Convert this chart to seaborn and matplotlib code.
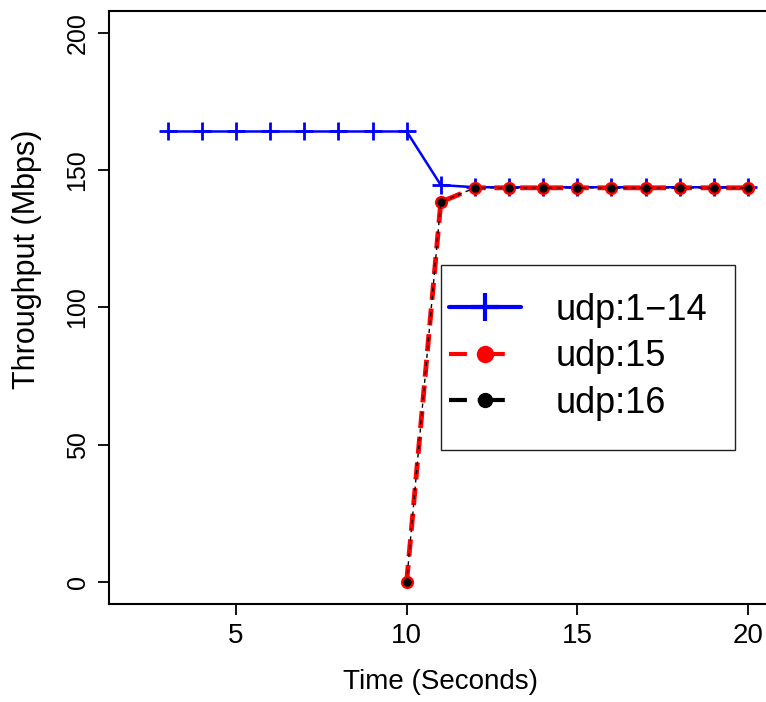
import matplotlib
matplotlib.use("Agg")
import matplotlib.pyplot as plt
from matplotlib.lines import Line2D
from matplotlib.patches import Rectangle
import seaborn as sns

# Throughput per second for each UDP flow group
time_udp_1_14 = [3, 4, 5, 6, 7, 8, 9, 10, 11, 12, 13, 14, 15, 16, 17, 18, 19, 20]
thr_udp_1_14 = [164, 164, 164, 164, 164, 164, 164, 164, 144.5,
                143.7, 143.7, 143.7, 143.7, 143.7, 143.7, 143.7, 143.7, 143.7]

time_udp_15 = [10, 11, 12, 13, 14, 15, 16, 17, 18, 19, 20]
thr_udp_15 = [0, 138.3, 143.5, 143.5, 143.5, 143.5, 143.5, 143.5, 143.5, 143.5, 143.5]

time_udp_16 = [10, 11, 12, 13, 14, 15, 16, 17, 18, 19, 20]
thr_udp_16 = [0, 138.3, 143.5, 143.5, 143.5, 143.5, 143.5, 143.5, 143.5, 143.5, 143.5]

series_labels = ["udp:1\u221214", "udp:15", "udp:16"]
x_ticks = [5, 10, 15, 20]
y_ticks = [0, 50, 100, 150, 200]

sns.set_style("ticks")
plt.rcParams["font.family"] = ["Liberation Sans", "DejaVu Sans"]
plt.rcParams.update({
    "text.color": "black",
    "axes.labelcolor": "black",
    "xtick.color": "black",
    "ytick.color": "black",
    "axes.edgecolor": "black",
})

W, H = 766, 702
fig = plt.figure(figsize=(W / 100, H / 100), dpi=100)
ax = fig.add_axes([109 / W, 1 - 604 / H, (772.6 - 109) / W, (604 - 10.6) / H])

sns.lineplot(x=time_udp_1_14, y=thr_udp_1_14, ax=ax, color="blue", lw=1.8,
             marker="+", markersize=13, markeredgewidth=2,
             markeredgecolor="blue")

sns.lineplot(x=time_udp_15, y=thr_udp_15, ax=ax, color="red", lw=3.5,
             linestyle="--", marker="o", markersize=9.5,
             markeredgewidth=0, markerfacecolor="red", markeredgecolor="red")
ax.lines[-1].set_dashes([3.5, 1.8])

sns.lineplot(x=time_udp_16, y=thr_udp_16, ax=ax, color="black", lw=1.0,
             linestyle="--", marker="o", markersize=6,
             markeredgewidth=0, markerfacecolor="black", markeredgecolor="black")
ax.lines[-1].set_dashes([3, 3])

ax.set_xlim(1.28, 20.72)
ax.set_ylim(-8, 208)
ax.set_xticks(x_ticks)
ax.set_yticks(y_ticks)
ax.set_xticklabels([str(v) for v in x_ticks], fontsize=20)
ax.set_yticklabels([str(v) for v in y_ticks], fontsize=18, rotation=90, va="center")
ax.tick_params(direction="out", length=8, width=1.3, color="black", pad=6)

for sp in ax.spines.values():
    sp.set_visible(True)
    sp.set_linewidth(1.5)
    sp.set_color("black")

ax.set_xlabel("Time (Seconds)", fontsize=20, va="center")
ax.set_ylabel("Throughput (Mbps)", fontsize=22, va="center")
ax.xaxis.set_label_coords(0.499, (604 - 682) / 593.4)
ax.yaxis.set_label_coords((27 - 109) / 663.6, (604 - 259) / 593.4)

# Legend box and entries
fig.patches.append(Rectangle((441 / W, 1 - 450 / H), 294 / W, 185 / H,
                             transform=fig.transFigure, fill=False,
                             edgecolor="#222222", lw=1.0))
handles = [
    Line2D([], [], color="blue", lw=3, marker="+", markersize=20,
           markeredgewidth=3),
    Line2D([], [], color="red", lw=3, marker="o", markersize=11.5,
           dashes=[4.3, 2.6, 6.5, 20]),
    Line2D([], [], color="black", lw=3, marker="o", markersize=10,
           dashes=[4.3, 2.6, 6.5, 20]),
]
fig.legend(handles, series_labels, loc="center left",
           bbox_to_anchor=(449 / W, 1 - 357 / H), bbox_transform=fig.transFigure,
           frameon=False, fontsize=26, borderpad=0, borderaxespad=0,
           handlelength=2.0, handletextpad=0.95, labelspacing=0.32)

fig.savefig("out.png", dpi=100)
